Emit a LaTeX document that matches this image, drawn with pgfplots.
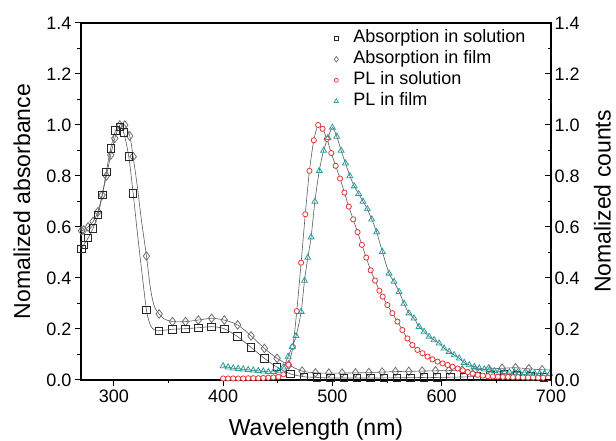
\documentclass[border=0pt]{standalone}
\usepackage{fontspec}
\setmainfont{Liberation Sans}
\usepackage{pgfplots}
\pgfplotsset{compat=1.18}
\definecolor{plred}{RGB}{232,52,52}
\definecolor{plteal}{RGB}{38,160,160}
\definecolor{lgray}{RGB}{90,90,90}
\definecolor{dgray}{RGB}{110,110,110}

\pgfplotstableread{
x y
270.5 0.515
272.5 0.530
276.5 0.556
281 0.595
285.5 0.647
289.5 0.725
293.2 0.817
297.2 0.908
301.5 0.978
305.5 0.992
309.1 0.970
313.7 0.876
317.7 0.732
329.9 0.275
341.5 0.193
353.7 0.199
365.6 0.201
377.3 0.205
389.5 0.209
401.1 0.201
413.3 0.170
425.6 0.128
437.8 0.085
449.4 0.050
461.6 0.024
473.8 0.013
485.9 0.010
498.1 0.008
510.3 0.008
522.5 0.008
534.7 0.008
546.9 0.008
559.1 0.009
571.3 0.009
583.5 0.010
595.7 0.010
607.9 0.011
620.1 0.012
632.3 0.014
644.5 0.018
656.7 0.022
668.9 0.020
681.1 0.014
693.3 0.010
}\abssolmarks

\pgfplotstableread{
x y
270.5 0.515
272.5 0.530
276.5 0.556
281 0.595
285.5 0.647
289.5 0.725
293.2 0.817
297.2 0.908
301.5 0.978
305.5 0.992
309.1 0.970
313.7 0.876
317.7 0.732
321.5 0.580
325.5 0.430
329.9 0.275
333.5 0.215
337.0 0.197
341.5 0.193
353.7 0.199
365.6 0.201
377.3 0.205
389.5 0.209
401.1 0.201
413.3 0.170
425.6 0.128
437.8 0.085
449.4 0.050
461.6 0.024
473.8 0.013
485.9 0.010
498.1 0.008
510.3 0.008
522.5 0.008
534.7 0.008
546.9 0.008
559.1 0.009
571.3 0.009
583.5 0.010
595.7 0.010
607.9 0.011
620.1 0.012
632.3 0.014
644.5 0.018
656.7 0.022
668.9 0.020
681.1 0.014
693.3 0.010
700 0.010
}\abssolline

\pgfplotstableread{
x y
270.5 0.585
272.5 0.588
276.5 0.600
281 0.621
285.5 0.660
289.3 0.725
293.2 0.800
297.2 0.882
300.9 0.948
305.5 1.000
310 1.000
314.6 0.957
317.7 0.876
329.9 0.486
341.5 0.259
353.7 0.229
365.6 0.229
377.3 0.235
389.5 0.242
401.1 0.235
413.3 0.216
425.6 0.173
437.8 0.124
449.4 0.085
460 0.059
472.3 0.035
484.5 0.028
496.7 0.027
508.9 0.027
521.1 0.028
533.3 0.029
545.5 0.031
557.7 0.033
569.9 0.034
582.1 0.035
594.3 0.036
606.5 0.037
618.7 0.039
630.9 0.040
643.1 0.043
655.3 0.046
667.5 0.048
679.7 0.044
691.9 0.040
}\absfilmmarks

\pgfplotstableread{
x y
270.5 0.585
272.5 0.588
276.5 0.600
281 0.621
285.5 0.660
289.3 0.725
293.2 0.800
297.2 0.882
300.9 0.948
305.5 1.000
310 1.000
314.6 0.957
317.7 0.876
321.5 0.760
325.5 0.620
329.9 0.486
333.5 0.360
337.0 0.290
341.5 0.259
346.0 0.240
353.7 0.229
365.6 0.229
377.3 0.235
389.5 0.242
401.1 0.235
413.3 0.216
425.6 0.173
437.8 0.124
449.4 0.085
460 0.059
472.3 0.035
484.5 0.028
496.7 0.027
508.9 0.027
521.1 0.028
533.3 0.029
545.5 0.031
557.7 0.033
569.9 0.034
582.1 0.035
594.3 0.036
606.5 0.037
618.7 0.039
630.9 0.040
643.1 0.043
655.3 0.046
667.5 0.048
679.7 0.044
691.9 0.040
700 0.040
}\absfilmline

\pgfplotstableread{
x y
400.0 0.006
404.6 0.006
409.2 0.006
413.8 0.006
418.4 0.006
423.0 0.007
427.6 0.007
432.2 0.007
436.8 0.008
441.4 0.009
446.0 0.010
450.6 0.012
455.2 0.022
459.8 0.060
463.8 0.130
467.4 0.270
471.4 0.460
475.2 0.650
479.0 0.820
483.0 0.940
487.0 1.000
491.0 0.985
495.0 0.945
499.0 0.890
503.0 0.840
507.0 0.790
511.0 0.735
515.0 0.680
519.0 0.630
523.0 0.580
527.0 0.530
531.0 0.480
535.0 0.430
539.0 0.390
543.0 0.350
546.0 0.327
550.3 0.294
554.9 0.262
559.5 0.229
564.0 0.196
568.6 0.163
573.2 0.137
577.8 0.118
582.4 0.105
587.0 0.092
591.6 0.081
596.2 0.072
600.8 0.065
605.4 0.059
610.0 0.052
614.6 0.045
619.2 0.038
623.8 0.031
628.4 0.025
633.0 0.020
637.6 0.017
642.2 0.015
646.8 0.014
651.4 0.013
656.0 0.012
660.6 0.012
665.2 0.011
669.8 0.011
674.4 0.010
679.0 0.010
683.6 0.010
688.2 0.009
692.8 0.009
697.4 0.009
}\plsol

\pgfplotstableread{
x y
400.0 0.055
404.6 0.050
409.2 0.046
413.8 0.044
418.4 0.042
423.0 0.040
427.6 0.038
432.2 0.036
436.8 0.034
441.4 0.032
446.0 0.032
450.6 0.035
455.0 0.050
459.5 0.092
463.2 0.130
466.8 0.173
471.4 0.268
474.5 0.390
477.5 0.480
480.5 0.560
484.0 0.700
488.0 0.820
492.0 0.900
496.0 0.950
500.0 0.990
504.0 0.955
508.0 0.900
512.0 0.850
516.0 0.800
520.0 0.760
524.0 0.730
528.0 0.700
532.0 0.670
536.0 0.630
540.5 0.580
545.7 0.503
551.8 0.418
556.4 0.386
561.0 0.346
565.5 0.300
570.0 0.262
574.7 0.242
579.3 0.209
583.9 0.190
588.5 0.170
593.0 0.157
597.6 0.144
602.2 0.124
606.8 0.111
611.4 0.098
616.0 0.085
620.6 0.068
625.2 0.059
629.8 0.052
634.4 0.046
639.0 0.042
643.6 0.039
648.2 0.036
652.8 0.034
657.4 0.032
662.0 0.031
666.6 0.030
671.2 0.029
675.8 0.028
680.4 0.027
685.0 0.026
689.6 0.025
694.2 0.025
698.8 0.024
}\plfilm

\begin{document}
\begin{tikzpicture}
\useasboundingbox (-81pt,-61pt) rectangle (535pt,380pt);
\begin{axis}[
  at={(0,0)}, anchor=south west,
  scale only axis, width=470pt, height=357pt,
  xmin=270, xmax=700, ymin=0, ymax=1.4,
  xtick={300,400,500,600,700}, minor x tick num=1,
  ytick={0,0.2,0.4,0.6,0.8,1.0,1.2,1.4}, minor y tick num=1,
  xtick pos=bottom, ytick pos=left, tick align=outside,
  major tick length=6pt, minor tick length=3.5pt,
  every tick/.style={black, line width=1pt},
  axis line style={line width=1.2pt},
  /pgf/number format/assume math mode=true,
  yticklabel style={/pgf/number format/.cd, fixed, fixed zerofill, precision=1},
  tick label style={font=\fontsize{18}{18}\selectfont},
  xlabel={Wavelength (nm)}, ylabel={Nomalized absorbance},
  every axis x label/.style={at={(axis description cs:0.5,-0.155)}, anchor=base, font=\fontsize{23}{23}\selectfont},
  every axis y label/.style={at={(axis description cs:-0.1085,0.5)}, rotate=90, anchor=base, font=\fontsize{23}{23}\selectfont},
  legend style={at={(axis description cs:0.53,0.99)}, anchor=north west, draw=none, fill=none,
    font=\fontsize{18}{18}\selectfont, row sep=2pt,
    nodes={inner ysep=1pt, text height=13pt, text depth=4pt}},
  legend image code/.code={\path[draw=none,fill=none] (0pt,0pt) -- (18pt,0pt); \draw[#1] plot[only marks] coordinates {(3pt,0pt)};},
  legend cell align=left,
  clip=false,
]
\addplot[lgray, line width=0.6pt, smooth, forget plot] table {\abssolline};
\addplot[lgray, line width=0.6pt, smooth, forget plot] table {\absfilmline};
\addplot[only marks, mark=diamond, mark size=4.3pt, mark options={draw=dgray, fill=white, line width=0.8pt}, forget plot] table {\absfilmmarks};
\addplot[only marks, mark=square, mark size=3.7pt, mark options={draw=black!85, fill=white, line width=0.9pt}, forget plot] table {\abssolmarks};
\addplot[lgray, line width=0.6pt, smooth, forget plot] table {\plsol};
\addplot[lgray, line width=0.6pt, smooth, forget plot] table {\plfilm};
\addplot[only marks, mark=*, mark size=2.6pt, mark options={draw=plred, fill=white, line width=0.8pt}, forget plot] table {\plsol};
\addplot[only marks, mark=triangle, mark size=3.4pt, mark options={draw=plteal, fill=white, line width=0.8pt}, forget plot] table {\plfilm};

\addlegendimage{mark=square, mark size=2pt, mark options={draw=black!85, line width=0.7pt}}
\addlegendentry{Absorption in solution}
\addlegendimage{mark=diamond, mark size=2.8pt, mark options={draw=dgray, line width=0.7pt}}
\addlegendentry{Absorption in film}
\addlegendimage{mark=o, mark size=2pt, mark options={draw=plred, line width=0.7pt}}
\addlegendentry{PL in solution}
\addlegendimage{mark=triangle, mark size=2.5pt, mark options={draw=plteal, line width=0.7pt}}
\addlegendentry{PL in film}
\end{axis}
\begin{axis}[
  at={(0,0)}, anchor=south west,
  scale only axis, width=470pt, height=357pt,
  xmin=270, xmax=700, ymin=0, ymax=1.4,
  axis x line=none, axis y line*=right,
  ytick={0,0.2,0.4,0.6,0.8,1.0,1.2,1.4}, minor y tick num=1,
  tick align=inside,
  major tick length=6pt, minor tick length=3.5pt,
  every tick/.style={black, line width=1pt},
  axis line style={line width=1.2pt},
  /pgf/number format/assume math mode=true,
  yticklabel style={/pgf/number format/.cd, fixed, fixed zerofill, precision=1},
  tick label style={font=\fontsize{18}{18}\selectfont},
  ylabel={Nomalized counts},
  every axis y label/.style={at={(axis description cs:1.127,0.5)}, rotate=90, anchor=base, font=\fontsize{23}{23}\selectfont},
]
\end{axis}
\end{tikzpicture}
\end{document}
